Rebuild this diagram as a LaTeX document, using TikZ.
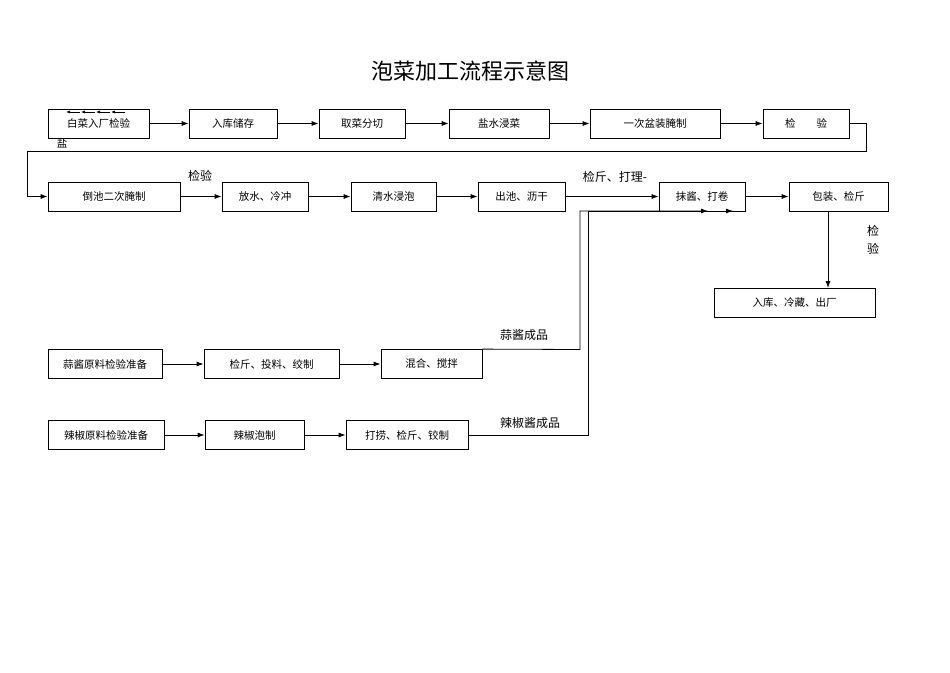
\documentclass[tikz,border=0pt]{standalone}
\usepackage{fontspec}
\setmainfont{Noto Sans CJK SC}
\usetikzlibrary{arrows.meta}
\begin{document}
\begin{tikzpicture}[x=1pt,y=-1pt,
  box/.style={draw, line width=0.8pt, minimum height=29pt, inner sep=0pt, font=\fontsize{10.5}{12}\selectfont},
  lbl/.style={font=\fontsize{12}{14}\selectfont, inner sep=0pt},
  flow/.style={line width=0.8pt, -{Latex[length=7pt,width=5pt]}},
  line/.style={line width=0.8pt}]
\useasboundingbox (0,0) rectangle (950,672);
\node[font=\fontsize{22}{26}\selectfont] (title) at (470,71) {泡菜加工流程示意图};
% row 1
\node[box, minimum width=101pt] (a) at (98.5,123.5) {白菜入厂检验};
\node[box, minimum width=88pt] (b) at (233,123.5) {入库储存};
\node[box, minimum width=86pt] (c) at (362,123.5) {取菜分切};
\node[box, minimum width=100pt] (d) at (499,123.5) {盐水浸菜};
\node[box, minimum width=130pt] (e) at (655,123.5) {一次盆装腌制};
\node[box, minimum width=86pt] (f) at (806,123.5) {检\hspace{2em}验};
\node[lbl, font=\fontsize{10.5}{12}\selectfont] (salt) at (62,143) {盐};
\foreach \i in {0,1,2,3} \draw[line width=0.6pt, -{Latex[length=4pt,width=3pt]}] (80+\i*15,112) -- (66+\i*15,112);
\draw[flow] (a) -- (b);
\draw[flow] (b) -- (c);
\draw[flow] (c) -- (d);
\draw[flow] (d) -- (e);
\draw[flow] (e) -- (f);
% row 2
\node[box, minimum width=132pt] (g) at (114,196.5) {倒池二次腌制};
\node[box, minimum width=86pt] (h) at (265,196.5) {放水、冷冲};
\node[box, minimum width=85pt] (i) at (393.5,196.5) {清水浸泡};
\node[box, minimum width=87pt] (j) at (521.5,196.5) {出池、沥干};
\node[box, minimum width=86pt] (k) at (702,196.5) {抹酱、打卷};
\node[box, minimum width=99pt] (l) at (838.5,196.5) {包装、检斤};
\node[box, minimum width=161pt] (m) at (794.5,302.5) {入库、冷藏、出厂};
\draw[flow] (f.east) -- (866,123.5) -- (866,151) -- (27,151) -- (27,196.5) -- (g.west);
\draw[flow] (g) -- (h);
\draw[flow] (h) -- (i);
\draw[flow] (i) -- (j);
\draw[flow] (j) -- (k);
\draw[flow] (k) -- (l);
\draw[flow] (828,211) -- (828,288);
\node[lbl] (t1) at (200,176) {检验};
\node[lbl] (t2) at (615,177) {检斤、打理-};
\node[lbl, align=center] (t3) at (873,240) {检\\[4pt]验};
% row 3
\node[box, minimum width=114pt] (n) at (105,364) {蒜酱原料检验准备};
\node[box, minimum width=135pt] (o) at (271.5,364) {检斤、投料、绞制};
\node[box, minimum width=101pt] (p) at (431.5,364) {混合、搅拌};
\draw[flow] (n) -- (o);
\draw[flow] (o) -- (p);
\node[lbl] (t4) at (524,335) {蒜酱成品};
\draw[flow] (p.north east) -- (580,349.5) -- (580,211) -- (708,211);
% row 4
\node[box, minimum width=116pt] (q) at (106,435) {辣椒原料检验准备};
\node[box, minimum width=99pt] (r) at (254.5,435) {辣椒泡制};
\node[box, minimum width=122pt] (s) at (407,435) {打捞、检斤、铰制};
\draw[flow] (q) -- (r);
\draw[flow] (r) -- (s);
\node[lbl] (t5) at (530,423) {辣椒酱成品};
\draw[flow] (s.east) -- (588,435) -- (588,211) -- (733,211);
\end{tikzpicture}
\end{document}
